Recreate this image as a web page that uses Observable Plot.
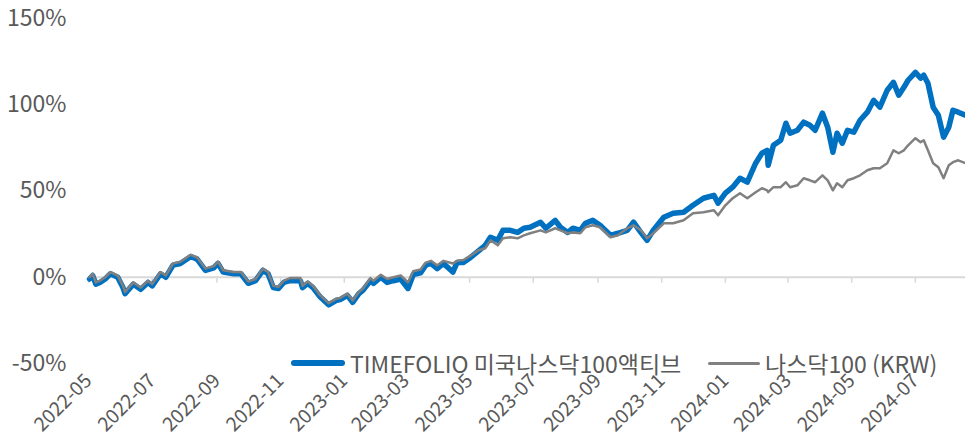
<!DOCTYPE html>
<html><head><meta charset="utf-8">
<script src="https://cdn.jsdelivr.net/npm/d3@7"></script>
<script src="https://cdn.jsdelivr.net/npm/@observablehq/plot@0.6"></script>
<style>
body{margin:0;background:#fff;font-family:"Noto Sans CJK KR","Noto Sans",sans-serif;}
#wrap{position:relative;width:965px;height:437px;overflow:hidden;}
.leg{position:absolute;top:348px;display:flex;align-items:center;font-size:23px;color:#595959;white-space:nowrap;line-height:30px;}
.sw{display:inline-block;margin-right:5px;border-radius:3px;}
</style></head><body><div id="wrap"></div><script>
const dates = ["2022-05-02","2022-05-05","2022-05-08","2022-05-12","2022-05-17","2022-05-22","2022-05-29","2022-06-03","2022-06-05","2022-06-13",
"2022-06-20","2022-06-27","2022-07-01","2022-07-09","2022-07-14","2022-07-21","2022-07-28","2022-08-07","2022-08-13","2022-08-21",
"2022-08-29","2022-09-02","2022-09-07","2022-09-17","2022-09-24","2022-10-01","2022-10-08","2022-10-15","2022-10-20","2022-10-25",
"2022-10-30","2022-11-04","2022-11-10","2022-11-20","2022-11-22","2022-11-27","2022-12-02","2022-12-09","2022-12-17","2022-12-24",
"2022-12-28","2023-01-04","2023-01-09","2023-01-15","2023-01-19","2023-01-26","2023-01-29","2023-02-05","2023-02-11","2023-02-17",
"2023-02-24","2023-03-03","2023-03-08","2023-03-15","2023-03-20","2023-03-25","2023-03-31","2023-04-06","2023-04-15","2023-04-19",
"2023-04-25","2023-05-02","2023-05-09","2023-05-16","2023-05-21","2023-05-28","2023-06-02","2023-06-09","2023-06-16","2023-06-22",
"2023-06-28","2023-07-08","2023-07-13","2023-07-22","2023-07-27","2023-08-03","2023-08-08","2023-08-15","2023-08-20","2023-08-27",
"2023-09-03","2023-09-13","2023-09-20","2023-09-29","2023-10-05","2023-10-12","2023-10-18","2023-10-24","2023-11-03","2023-11-12",
"2023-11-22","2023-12-01","2023-12-11","2023-12-21","2023-12-25","2024-01-01","2024-01-08","2024-01-15","2024-01-22","2024-01-30",
"2024-02-05","2024-02-10","2024-02-11","2024-02-16","2024-02-23","2024-02-28","2024-03-03","2024-03-10","2024-03-16","2024-03-22",
"2024-03-27","2024-04-03","2024-04-08","2024-04-13","2024-04-17","2024-04-22","2024-04-27","2024-05-03","2024-05-09","2024-05-16",
"2024-05-22","2024-05-28","2024-06-04","2024-06-10","2024-06-15","2024-06-20","2024-06-24","2024-07-01","2024-07-06","2024-07-09",
"2024-07-13","2024-07-18","2024-07-23","2024-07-28","2024-08-02","2024-08-06","2024-08-11","2024-08-18"];
const timefolio = [-1,1,-4,-3,-1,2,0,-6,-9.5,-4,
-7,-3,-5,2,0,7,8,12,10.5,4,
5.5,8,3,2,2,-3.5,-2,4,2,-6,
-6.5,-3,-2,-2,-6,-3.5,-6,-11.5,-16,-13.5,
-13,-10.5,-14.5,-9.5,-7.5,-2,-3.5,0,-3,-2,
-1,-6.5,1.5,2.5,7,8,5,8,3,8.5,
8.5,11.5,15,18.5,23.2,21.4,27.2,27.2,26,28.4,
29,31.9,28.4,33,29,26,28.4,27.2,31.3,33,
30.1,24.3,25.5,27.2,31.9,26,21.4,27.2,34.8,37.1,
37.7,41.7,45.8,47.5,42.9,48.7,52.2,57.4,55.1,66.1,
71.9,73.6,64.9,76.5,79.4,89.3,83.5,85.2,89.9,88.1,
85.2,95.1,87,72.5,83.5,77.7,85.2,84.1,91,95.7,
102.6,98.6,108.4,113,105.5,110.1,114.2,118.8,115.4,117.1,
112.5,98.6,93.9,81.2,87,96.8,95.7,93.9];
const nasdaq = [0,2,-3,-2,0,3,1,-5,-8.5,-3,
-6,-2,-4,3,1,8,9,13,11.5,5,
6.5,9,4,3,3,-2.5,-1,5,3,-5,
-5.5,-2,-0.5,-0.5,-5,-2.5,-5,-10.5,-15,-12.5,
-12,-9.5,-13.5,-8.5,-6.5,-0.5,-2,1.5,-1,0,
1,-3,3.5,4.5,8.5,9.5,7,9.5,8,9.5,
10,12.5,15.5,16.8,21.4,18.5,22.6,23.2,22.6,24.3,
25.5,27.2,26,28.4,27.2,25.5,26,25.5,29,30.1,
29,23.2,24.3,28.4,30.1,27.2,22.6,25.5,31.3,31.3,
33,37.1,37.7,38.8,35.9,41.7,45.8,48.7,45.8,49.3,
51.6,50.4,49.3,52.2,52.2,55.1,52.2,53.3,57.4,56.2,
55.1,59.1,56.2,50.4,54.5,52.2,56.2,57.4,59.1,62,
63.2,63.2,66.1,73.6,71.9,73.6,76.5,80.6,78.3,79.4,
73.6,66.1,63.8,57.4,64.9,66.7,67.8,66.1];
const seriesNames = ["TIMEFOLIO 미국나스닥100액티브", "나스닥100 (KRW)"];
const seriesColors = ["#0070C0", "#808080"];
const xTicks = ["2022-05","2022-07","2022-09","2022-11","2023-01","2023-03","2023-05","2023-07","2023-09","2023-11","2024-01","2024-03","2024-05","2024-07"];
const yTicks = [-50, 0, 50, 100, 150];
const xDomain = ["2022-05-01", "2024-08-18"];

const parse = d3.utcParse("%Y-%m-%d");
const parseM = d3.utcParse("%Y-%m");
const rows = dates.map((d, i) => ({date: parse(d), a: timefolio[i], b: nasdaq[i]}));
const tickDates = xTicks.map(parseM);

const chart = Plot.plot({
  width: 965, height: 437,
  marginLeft: 88, marginRight: 0, marginTop: 18, marginBottom: 74,
  style: {fontFamily: '"Noto Sans CJK KR","Noto Sans",sans-serif', color: "#595959", background: "white", overflow: "visible"},
  x: {type: "utc", domain: xDomain.map(parse), axis: null},
  y: {domain: [-50, 150], axis: null},
  marks: [
    Plot.ruleY([0], {stroke: "#d9d9d9", strokeWidth: 2}),
    Plot.ruleX(tickDates, {x: d => d, y1: 0, y2: 0, insetTop: 0, insetBottom: -6, stroke: "#d9d9d9", strokeWidth: 1.5}),
    Plot.lineY(rows, {x: "date", y: "a", stroke: seriesColors[0], strokeWidth: 5.5, strokeLinejoin: "round"}),
    Plot.lineY(rows, {x: "date", y: "b", stroke: seriesColors[1], strokeWidth: 2.5, strokeLinejoin: "round"}),
    Plot.axisY(yTicks, {tickSize: 0, tickPadding: 22, tickFormat: d => d + "%", fontSize: 23}),
    Plot.axisX(tickDates, {tickSize: 0, tickPadding: 14, tickRotate: -45, tickFormat: d3.utcFormat("%Y-%m"), fontSize: 19.5})
  ]
});
const wrap = document.getElementById("wrap");
wrap.appendChild(chart);

const legPos = [{left: 291, w: 54, h: 6}, {left: 708, w: 52, h: 3}];
seriesNames.forEach((name, i) => {
  const div = document.createElement("div");
  div.className = "leg";
  div.style.left = legPos[i].left + "px";
  const sw = document.createElement("span");
  sw.className = "sw";
  sw.style.width = legPos[i].w + "px";
  sw.style.height = legPos[i].h + "px";
  sw.style.background = seriesColors[i];
  div.appendChild(sw);
  const t = document.createElement("span");
  t.textContent = name;
  div.appendChild(t);
  wrap.appendChild(div);
});
</script></body></html>
